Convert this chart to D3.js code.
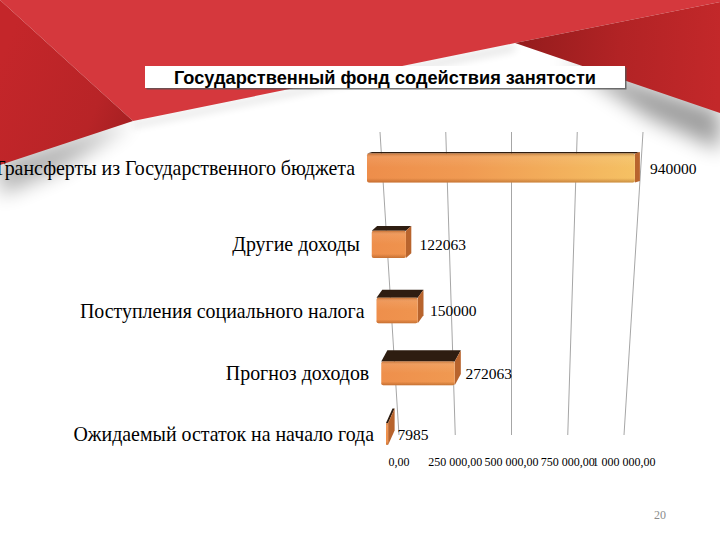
<!DOCTYPE html>
<html><head><meta charset="utf-8">
<script src="https://cdn.jsdelivr.net/npm/d3@7"></script>
<style>html,body{margin:0;padding:0;background:#fff;}svg{display:block;}</style>
</head><body>
<svg id="c" width="720" height="540"></svg>
<script>
const title = "Государственный фонд содействия занятости";
const categories = ["Трансферты из Государственного бюджета","Другие доходы","Поступления социального налога","Прогноз доходов","Ожидаемый остаток на начало года"];
const values = [940000,122063,150000,272063,7985];
const tickValues = [0,250000,500000,750000,1000000];
const pageNumber = "20";

const svg = d3.select("#c");
const defs = svg.append("defs");

// ---------- background ----------
function lin(id, x1,y1,x2,y2, stops){
  const g = defs.append("linearGradient").attr("id",id).attr("gradientUnits","userSpaceOnUse")
    .attr("x1",x1).attr("y1",y1).attr("x2",x2).attr("y2",y2);
  stops.forEach(s=>g.append("stop").attr("offset",s[0]).attr("stop-color",s[1]).attr("stop-opacity",s[2]===undefined?1:s[2]));
}
defs.append("filter").attr("id","blur").attr("x","-50%").attr("y","-50%").attr("width","200%").attr("height","200%")
  .append("feGaussianBlur").attr("stdDeviation",10);
defs.append("filter").attr("id","blurS").attr("x","-50%").attr("y","-50%").attr("width","200%").attr("height","200%")
  .append("feGaussianBlur").attr("stdDeviation",4);

lin("gLeft",0,60,140,120,[[0,"#c4262a"],[0.7,"#b82427"],[1,"#a31f21"]]);
lin("gRight",520,45,720,60,[[0,"#951c1d"],[0.5,"#b22325"],[1,"#c3282a"]]);

const bg = svg.append("g");
// shadows
bg.append("path").attr("d","M0,160 L133,121 L60,170 L0,195 Z").attr("fill","#000").attr("opacity",0.3).attr("filter","url(#blur)");
bg.append("path").attr("d","M560,58 L720,110 L720,150 L650,118 Z").attr("fill","#000").attr("opacity",0.38).attr("filter","url(#blur)");
bg.append("path").attr("d","M133,123 L515,45 L515,50 L133,127 Z").attr("fill","#000").attr("opacity",0.15).attr("filter","url(#blurS)");
// light red
bg.append("path").attr("d","M0,0 L720,0 L720,2 L515,43 L133,121 Z").attr("fill","#d5383d");
// dark left
bg.append("path").attr("d","M0,0 L133,121 L0,165 Z").attr("fill","url(#gLeft)");
// dark right
bg.append("path").attr("d","M515,43 L720,2 L720,113 Z").attr("fill","url(#gRight)");

// ---------- title ----------
defs.append("filter").attr("id","tshadow").append("feDropShadow")
  .attr("dx",1.5).attr("dy",1.5).attr("stdDeviation",0.6).attr("flood-color","#555").attr("flood-opacity",0.8);
svg.append("rect").attr("x",145).attr("y",66).attr("width",480).attr("height",22).attr("fill","#fff").attr("filter","url(#tshadow)");
svg.append("text").attr("x",385).attr("y",77.5).attr("text-anchor","middle").attr("dominant-baseline","central")
  .attr("font-family","'Liberation Sans', Arial, sans-serif").attr("font-weight","bold").attr("font-size",18.2)
  .attr("fill","#000").text(title);

// ---------- scales ----------
const gridTop = 132, gridBottom = 435;
const xTop = d3.scaleLinear().domain([0,1000000]).range([380,643]);
const xBot = d3.scaleLinear().domain([0,1000000]).range([399,624]);
const n = categories.length;
const yRow = d3.scalePow().exponent(0.9).domain([0,n-1]).range([168,434]);
const x0Row = d3.scaleLinear().domain([0,n-1]).range([367,386]);
const widthPerM = d3.scaleLinear().domain([0,n-1]).range([285,265]);
const frontH = d3.scaleLinear().domain([0,n-1]).range([29,22]);
const depthY = d3.scaleLinear().domain([0,n-1]).range([1.5,14.5]);
const depthX = d3.scaleLinear().domain([0,n-1]).range([5,6.5]);
const labelGap = d3.scaleLinear().domain([0,n-1]).range([10,3]);

// gridlines
svg.append("g").selectAll("line").data(tickValues).join("line")
  .attr("x1",d=>xTop(d)).attr("y1",gridTop).attr("x2",d=>xBot(d)).attr("y2",gridBottom)
  .attr("stroke","#a6a6a6").attr("stroke-width",1);

// tick labels
const loc = d3.formatLocale({decimal:",",thousands:"\u00a0",grouping:[3],currency:["",""]});
const fmt = loc.format(",.2f");
svg.append("g").selectAll("text").data(tickValues).join("text")
  .attr("x",d=>xBot(d)).attr("y",462).attr("text-anchor","middle").attr("dominant-baseline","central")
  .attr("font-family","'Liberation Serif','Times New Roman',serif").attr("font-size",12).attr("fill","#000")
  .text(d=>fmt(d));

// gradients for bars
lin("gFront",370,0,640,0,[[0,"#ee8e4b"],[0.35,"#f09a52"],[1,"#f5c264"]]);
const gv = defs.append("linearGradient").attr("id","gShade").attr("x1",0).attr("y1",0).attr("x2",0).attr("y2",1);
[[0,"#7a3300",0.35],[0.15,"#ffffff",0.08],[0.5,"#ffffff",0],[0.85,"#7a3300",0],[1,"#7a3300",0.35]]
  .forEach(s=>gv.append("stop").attr("offset",s[0]).attr("stop-color",s[1]).attr("stop-opacity",s[2]));

// bars
const bars = svg.append("g").selectAll("g").data(values).join("g");
bars.each(function(v,i){
  const g = d3.select(this);
  const x0 = x0Row(i);
  const w = d3.scaleLinear().domain([0,1000000]).range([0,widthPerM(i)])(v);
  const h = frontH(i);
  const yc = yRow(i);
  const yt = yc - h/2, yb = yc + h/2;
  const dy = depthY(i), dx = depthX(i);
  const x1 = x0 + w;
  // top face
  g.append("path").attr("d",`M${x0},${yt} L${x1},${yt} L${x1+dx},${yt-dy} L${x0+dx},${yt-dy} Z`).attr("fill","#2e1d11");
  // side face
  g.append("path").attr("d",`M${x1},${yt} L${x1+dx},${yt-dy} L${x1+dx},${yb-dy} L${x1},${yb} Z`).attr("fill","#b8642d");
  // front face
  g.append("rect").attr("x",x0).attr("y",yt).attr("width",w).attr("height",h).attr("rx",Math.min(2,w/2)).attr("fill","url(#gFront)");
  g.append("rect").attr("x",x0).attr("y",yt).attr("width",w).attr("height",h).attr("rx",Math.min(2,w/2)).attr("fill","url(#gShade)");
  // value label
  g.append("text").attr("x",x1+dx+labelGap(i)).attr("y",yc).attr("dominant-baseline","central")
    .attr("font-family","'Liberation Serif','Times New Roman',serif").attr("font-size",15.5).attr("fill","#000")
    .text(v);
  // category label
  g.append("text").attr("x",x0-12).attr("y",yc).attr("text-anchor","end").attr("dominant-baseline","central")
    .attr("font-family","'Liberation Serif','Times New Roman',serif").attr("font-size",19.9).attr("fill","#000")
    .text(categories[i]);
});

// page number
svg.append("text").attr("x",660).attr("y",515).attr("text-anchor","middle").attr("dominant-baseline","central")
  .attr("font-family","'Liberation Serif','Times New Roman',serif").attr("font-size",12).attr("fill","#8c8c8c")
  .text(pageNumber);
</script>
</body></html>
